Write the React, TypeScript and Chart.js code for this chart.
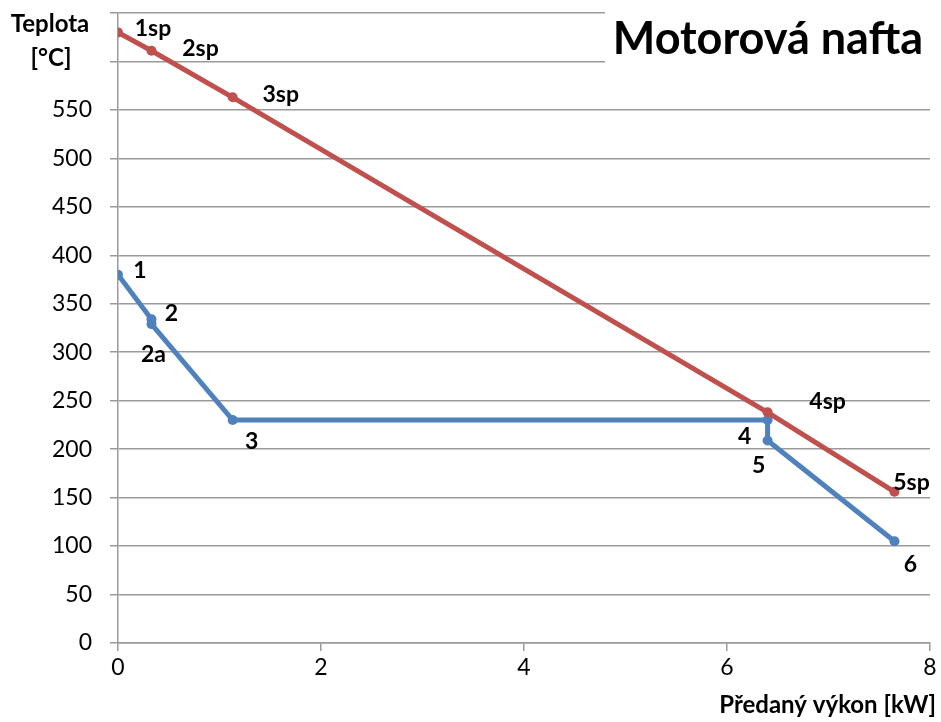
import React, { useEffect, useRef } from 'react';
import { Chart, registerables } from 'chart.js';
Chart.register(...registerables);

// Hot stream (spaliny) – red
const hotX = [0, 0.33, 1.13, 6.4, 7.65];
const hotY = [630, 611, 563, 238, 156];
const hotLabels = ['1sp', '2sp', '3sp', '4sp', '5sp'];
// Cold stream (nafta) – blue
const coldX = [0, 0.33, 0.33, 1.13, 6.4, 6.4, 7.65];
const coldY = [380, 334, 329, 230, 230, 209, 105];
const coldLabels = ['1', '2', '2a', '3', '4', '5', '6'];

const xMin = 0, xMax = 8, xStep = 2;
const yMin = 0, yMax = 650, yStep = 50;
const yHiddenFrom = 600;

const titleText = 'Motorová nafta';
const yTitleLines = ['Teplota', '[°C]'];
const xTitleText = 'Předaný výkon [kW]';

// label pixel offsets (styling, relative to each point)
const hotLabelOffsets = [[35, -4], [49, -2], [48, -3], [60, -11], [17, -9]];
const coldLabelOffsets = [[22, -4], [20, -6], [2, 30], [19, 22], [-23, 17], [-9, 25], [16, 23]];

const RED = '#C0504D';
const BLUE = '#4F81BD';
const GRID = '#9a9a9a';
const FONT = 'Lato, "DejaVu Sans", sans-serif';

export default function App() {
  const ref = useRef<HTMLCanvasElement | null>(null);
  useEffect(() => {
    if (!ref.current) return;
    const overlay = {
      id: 'overlay',
      beforeDatasetsDraw(chart: any) {
        const ctx = chart.ctx;
        ctx.save();
        ctx.fillStyle = '#fff';
        ctx.fillRect(605, 0, 336, 90);
        ctx.restore();
      },
      afterDraw(chart: any) {
        const ctx = chart.ctx;
        const xs = chart.scales.x, ys = chart.scales.y;
        ctx.save();
        ctx.fillStyle = '#000';
        ctx.textAlign = 'center';
        ctx.textBaseline = 'middle';
        ctx.font = `bold 23px ${FONT}`;
        hotLabels.forEach((t, i) => {
          const px = xs.getPixelForValue(hotX[i]) + hotLabelOffsets[i][0];
          const py = ys.getPixelForValue(hotY[i]) + hotLabelOffsets[i][1];
          ctx.fillText(t, px, py);
        });
        coldLabels.forEach((t, i) => {
          const px = xs.getPixelForValue(coldX[i]) + coldLabelOffsets[i][0];
          const py = ys.getPixelForValue(coldY[i]) + coldLabelOffsets[i][1];
          ctx.fillText(t, px, py);
        });
        // y title
        ctx.font = `bold 24px ${FONT}`;
        ctx.fillText(yTitleLines[0], 50, 24);
        ctx.fillText(yTitleLines[1], 51, 58);
        // x title
        ctx.textAlign = 'right';
        ctx.fillText(xTitleText, 936, 705);
        // chart title
        ctx.textAlign = 'center';
        ctx.font = `bold 45px ${FONT}`;
        ctx.fillText(titleText, 768, 39);
        ctx.restore();
      },
    };
    const chart = new Chart(ref.current, {
      type: 'scatter',
      data: {
        datasets: [
          {
            label: 'spaliny',
            data: hotX.map((x, i) => ({ x, y: hotY[i] })),
            showLine: true,
            borderColor: RED,
            backgroundColor: RED,
            borderWidth: 5,
            pointRadius: 5,
            pointBorderWidth: 0,
            pointBackgroundColor: RED,
          },
          {
            label: 'nafta',
            data: coldX.map((x, i) => ({ x, y: coldY[i] })),
            showLine: true,
            borderColor: BLUE,
            backgroundColor: BLUE,
            borderWidth: 5,
            pointRadius: 5,
            pointBorderWidth: 0,
            pointBackgroundColor: BLUE,
          },
        ],
      },
      options: {
        animation: false,
        responsive: false,
        layout: { padding: { top: 13, right: 11, left: 0, bottom: 0 } },
        plugins: { legend: { display: false }, tooltip: { enabled: false } },
        scales: {
          x: {
            type: 'linear',
            min: xMin,
            max: xMax,
            afterFit: (s: any) => { s.height = 79; s.paddingLeft = 0; s.paddingRight = 0; },
            ticks: { stepSize: xStep, color: '#000', font: { family: FONT, size: 23 }, padding: 3 },
            grid: { drawOnChartArea: false, drawTicks: true, tickLength: 8, color: GRID, lineWidth: 1.5 },
            border: { display: true, color: GRID, width: 1.5 },
          },
          y: {
            type: 'linear',
            min: yMin,
            max: yMax,
            afterFit: (s: any) => { s.width = 118; s.paddingTop = 0; s.paddingBottom = 0; },
            ticks: {
              stepSize: yStep,
              color: '#000',
              font: { family: FONT, size: 23 },
              padding: 18,
              callback: (v: any) => (v >= yHiddenFrom ? '' : String(v)),
            },
            grid: { color: GRID, lineWidth: 1.5, tickLength: 8, drawTicks: true },
            border: { display: true, color: GRID, width: 1.5 },
          },
        },
      },
      plugins: [overlay],
    });
    return () => chart.destroy();
  }, []);
  return (
    <div style={{ position: 'absolute', left: 0, top: 0, width: 941, height: 722, background: '#fff' }}>
      <canvas ref={ref} width={941} height={722} style={{ display: 'block' }} />
    </div>
  );
}
